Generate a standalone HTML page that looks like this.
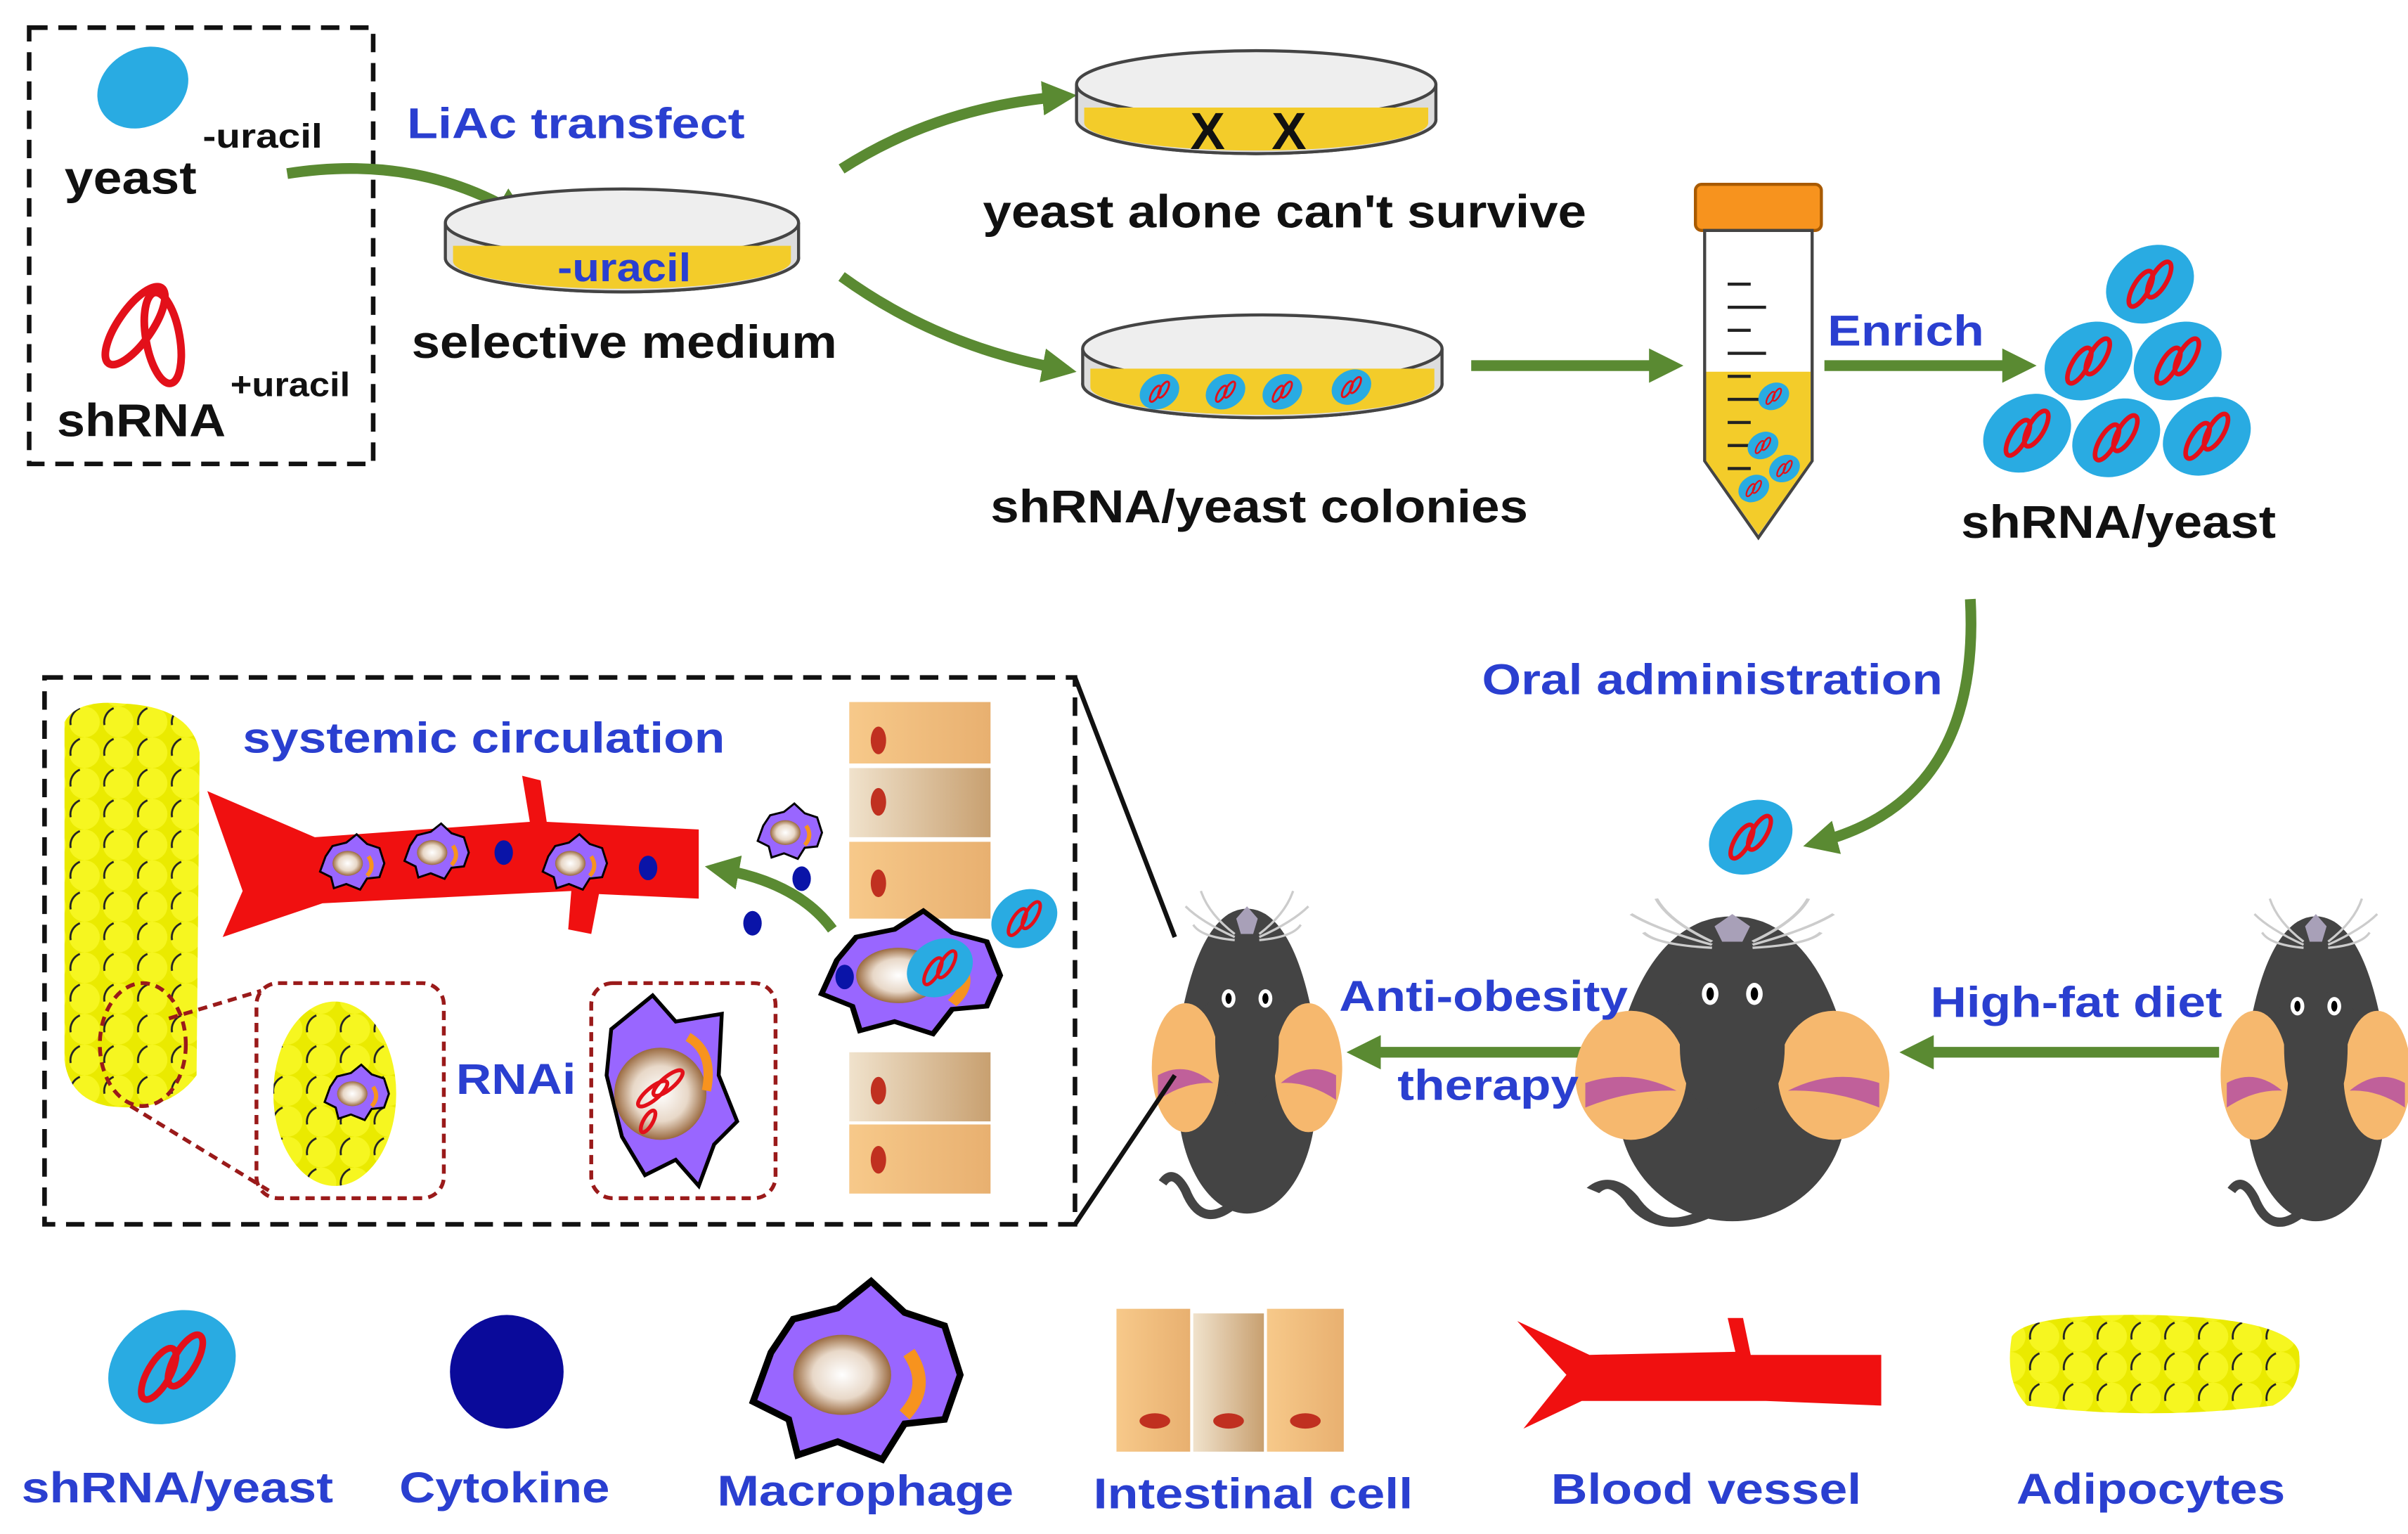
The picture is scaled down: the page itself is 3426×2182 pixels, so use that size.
<!DOCTYPE html>
<html><head><meta charset="utf-8"><style>
html,body{margin:0;padding:0;background:#fff}
svg{display:block}
text{font-family:"Liberation Sans",Arial,sans-serif;font-weight:bold}
.b{fill:#2a3fd0}.k{fill:#111}
</style></head><body>
<svg width="3426" height="2182" viewBox="0 0 1568 998.6" preserveAspectRatio="none" xmlns="http://www.w3.org/2000/svg">
<defs>
<marker id="ah" viewBox="0 0 10 10" refX="5" refY="5" markerWidth="3.2" markerHeight="3.2" orient="auto"><path d="M0,0 L10,5 L0,10 z" fill="#5a8a32"/></marker>
<radialGradient id="nuc"><stop offset="0" stop-color="#fff"/><stop offset=".6" stop-color="#e8d8c8"/><stop offset="1" stop-color="#9a6a40"/></radialGradient>
<linearGradient id="cell" x1="0" x2="1"><stop offset="0" stop-color="#f7c98a"/><stop offset="1" stop-color="#e8b070"/></linearGradient>
<linearGradient id="cell2" x1="0" x2="1"><stop offset="0" stop-color="#f0e2cc"/><stop offset="1" stop-color="#c8a070"/></linearGradient>
<pattern id="adi" width="22" height="20" patternUnits="userSpaceOnUse">
<rect width="22" height="20" fill="#eaea00"/>
<circle cx="11" cy="10" r="10" fill="#f6f620"/>
<path d="M2,12 A10,10 0 0 1 8,1" stroke="#222" stroke-width="1.3" fill="none"/>
</pattern>
<g id="yeast">
<ellipse cx="0" cy="0" rx="30" ry="24" transform="rotate(-30)" fill="#29abe2"/>
<ellipse cx="-6" cy="3" rx="5" ry="13" transform="rotate(30 -6 3)" fill="none" stroke="#e3101a" stroke-width="3"/>
<ellipse cx="6" cy="-3" rx="5" ry="13" transform="rotate(30 6 -3)" fill="none" stroke="#e3101a" stroke-width="3"/>
</g>
<g id="mac">
<path d="M-40,-10 L-30,-25 L-10,-30 L5,-42 L20,-28 L38,-22 L45,0 L38,20 L20,22 L10,38 L-10,30 L-28,36 L-32,20 L-48,12 Z" fill="#9966ff" stroke="#000" stroke-width="3"/>
<ellipse cx="-8" cy="0" rx="22" ry="18" fill="url(#nuc)"/>
<path d="M22,-10 Q32,5 20,18" stroke="#f7931e" stroke-width="6" fill="none"/>
</g>
<g id="mbody">
<path d="M-45,-15 Q-35,-80 -12,-95 Q0,-102 12,-95 Q35,-80 45,-15 Z" fill="#444"/>
<ellipse cx="0" cy="25" rx="45" ry="75" fill="#444"/>
<ellipse cx="-40" cy="5" rx="22" ry="42" fill="#f6b86e"/>
<ellipse cx="40" cy="5" rx="22" ry="42" fill="#f6b86e"/>
<path d="M-58,10 Q-40,0 -22,15 Q-40,14 -58,26Z" fill="#c0609a"/>
<path d="M58,10 Q40,0 22,15 Q40,14 58,26Z" fill="#c0609a"/>
<path d="M-20,-30 Q-24,20 -5,30 L0,95 L5,30 Q24,20 20,-30 Z" fill="#444"/>
<path d="M-7,-92 L0,-100 L7,-92 L4,-82 L-4,-82Z" fill="#a8a0b8"/>
<g stroke="#ccc" stroke-width="1.5" fill="none"><path d="M-8,-82 Q-25,-95 -30,-110"/><path d="M-8,-80 Q-30,-90 -40,-100"/><path d="M-8,-78 Q-30,-80 -35,-88"/><path d="M8,-82 Q25,-95 30,-110"/><path d="M8,-80 Q30,-90 40,-100"/><path d="M8,-78 Q30,-80 35,-88"/></g>
<path d="M-10,95 Q-30,110 -40,85 Q-48,70 -55,80" stroke="#444" stroke-width="6" fill="none"/>
</g>
<g id="eyes">
<ellipse cx="-12" cy="-40" rx="4.5" ry="6" fill="#fff"/><ellipse cx="12" cy="-40" rx="4.5" ry="6" fill="#fff"/>
<ellipse cx="-12" cy="-40" rx="2" ry="3.5" fill="#000"/><ellipse cx="12" cy="-40" rx="2" ry="3.5" fill="#000"/>
</g>
</defs>

<!-- top-left box -->
<rect x="19" y="18" width="224" height="284" fill="none" stroke="#111" stroke-width="3" stroke-dasharray="12 7"/>
<ellipse cx="93" cy="57" rx="31" ry="25" transform="rotate(-30 93 57)" fill="#29abe2"/>
<text x="42" y="126" font-size="30" class="k" textLength="86" lengthAdjust="spacingAndGlyphs">yeast</text>
<text x="132" y="96" font-size="22" class="k" textLength="78" lengthAdjust="spacingAndGlyphs">-uracil</text>
<g fill="none" stroke="#e3101a" stroke-width="5"><ellipse cx="88" cy="212" rx="11" ry="30" transform="rotate(35 88 212)"/><ellipse cx="106" cy="220" rx="11" ry="30" transform="rotate(-10 106 220)"/></g>
<text x="37" y="284" font-size="30" class="k" textLength="110" lengthAdjust="spacingAndGlyphs">shRNA</text>
<text x="150" y="258" font-size="22" class="k" textLength="78" lengthAdjust="spacingAndGlyphs">+uracil</text>

<g stroke="#5a8a32" stroke-width="7" fill="none" marker-end="url(#ah)">
<path d="M187,113 Q270,100 335,138"/>
<path d="M548,110 Q610,70 690,63"/>
<path d="M548,180 Q610,225 690,240"/>
<path d="M958,238 L1085,238"/>
<path d="M1188,238 L1315,238"/>
<path d="M1283,390 Q1290,520 1185,548"/>
<path d="M1052,685 L888,685"/>
<path d="M1445,685 L1248,685"/>
<path d="M542,605 Q520,575 470,566"/>
</g>
<text x="265" y="90" font-size="28" class="b" textLength="220" lengthAdjust="spacingAndGlyphs">LiAc transfect</text>

<!-- dishes -->
<g stroke="#444" stroke-width="2">
<ellipse cx="405" cy="168" rx="115" ry="22" fill="#f3cc2a"/>
<path d="M290,145 L290,168 A115,22 0 0 0 520,168 L520,145" fill="#ddd"/>
<ellipse cx="405" cy="145" rx="115" ry="22" fill="#eee"/>
<ellipse cx="818" cy="78" rx="117" ry="22" fill="#f3cc2a"/>
<path d="M701,55 L701,78 A117,22 0 0 0 935,78 L935,55" fill="#ddd"/>
<ellipse cx="818" cy="55" rx="117" ry="22" fill="#eee"/>
<ellipse cx="822" cy="250" rx="117" ry="22" fill="#f3cc2a"/>
<path d="M705,227 L705,250 A117,22 0 0 0 939,250 L939,227" fill="#ddd"/>
<ellipse cx="822" cy="227" rx="117" ry="22" fill="#eee"/>
</g>
<path d="M295,170 A110,18 0 0 0 515,170 L515,160 L295,160Z" fill="#f3cc2a"/>
<text x="363" y="183" font-size="26" class="b" textLength="87" lengthAdjust="spacingAndGlyphs">-uracil</text>
<text x="268" y="233" font-size="30" class="k" textLength="277" lengthAdjust="spacingAndGlyphs">selective medium</text>
<path d="M706,80 A112,18 0 0 0 930,80 L930,70 L706,70Z" fill="#f3cc2a"/>
<text x="775" y="97" font-size="34" class="k">X</text><text x="828" y="97" font-size="34" class="k">X</text>
<text x="640" y="148" font-size="30" class="k" textLength="393" lengthAdjust="spacingAndGlyphs">yeast alone can't survive</text>
<path d="M710,252 A112,18 0 0 0 934,252 L934,240 L710,240Z" fill="#f3cc2a"/>
<use href="#yeast" transform="translate(755,255) scale(.45)"/>
<use href="#yeast" transform="translate(798,255) scale(.45)"/>
<use href="#yeast" transform="translate(835,255) scale(.45)"/>
<use href="#yeast" transform="translate(880,252) scale(.45)"/>
<text x="645" y="340" font-size="30" class="k" textLength="350" lengthAdjust="spacingAndGlyphs">shRNA/yeast colonies</text>

<!-- tube -->
<rect x="1104" y="120" width="82" height="30" rx="4" fill="#f7931e" stroke="#a85a00" stroke-width="2"/>
<path d="M1110,150 L1180,150 L1180,300 L1145,350 L1110,300Z" fill="#fff" stroke="#444" stroke-width="2"/>
<path d="M1111,242 L1179,242 L1179,300 L1145,348 L1111,300Z" fill="#f3cc2a"/>
<g stroke="#222" stroke-width="2"><path d="M1125,185 h15 M1125,200 h25 M1125,215 h15 M1125,230 h25 M1125,245 h15 M1125,260 h25 M1125,275 h15 M1125,290 h25 M1125,305 h15"/></g>
<use href="#yeast" transform="translate(1155,258) scale(.35)"/>
<use href="#yeast" transform="translate(1148,290) scale(.35)"/>
<use href="#yeast" transform="translate(1162,305) scale(.35)"/>
<use href="#yeast" transform="translate(1142,318) scale(.35)"/>
<text x="1190" y="225" font-size="28" class="b" textLength="102" lengthAdjust="spacingAndGlyphs">Enrich</text>
<use href="#yeast" transform="translate(1400,185)"/>
<use href="#yeast" transform="translate(1360,235)"/>
<use href="#yeast" transform="translate(1418,235)"/>
<use href="#yeast" transform="translate(1320,282)"/>
<use href="#yeast" transform="translate(1378,285)"/>
<use href="#yeast" transform="translate(1437,284)"/>
<text x="1277" y="350" font-size="30" class="k" textLength="205" lengthAdjust="spacingAndGlyphs">shRNA/yeast</text>
<text x="965" y="452" font-size="28" class="b" textLength="300" lengthAdjust="spacingAndGlyphs">Oral administration</text>
<use href="#yeast" transform="translate(1140,545) scale(.95)"/>

<!-- mice -->
<use href="#mbody" transform="translate(812,690)"/><use href="#eyes" transform="translate(812,690)"/>
<use href="#mbody" transform="translate(1128,695) scale(1.65,1)"/><use href="#eyes" transform="translate(1128,695) scale(1.2)"/>
<use href="#mbody" transform="translate(1508,695)"/><use href="#eyes" transform="translate(1508,695)"/>
<text x="872" y="658" font-size="28" class="b" textLength="188" lengthAdjust="spacingAndGlyphs">Anti-obesity</text>
<text x="910" y="716" font-size="28" class="b" textLength="118" lengthAdjust="spacingAndGlyphs">therapy</text>
<text x="1257" y="662" font-size="28" class="b" textLength="190" lengthAdjust="spacingAndGlyphs">High-fat diet</text>

<!-- bottom-left box -->
<rect x="29" y="441" width="671" height="356" fill="none" stroke="#111" stroke-width="3" stroke-dasharray="12 7"/>
<path d="M700,441 L765,610 M700,797 L765,700" stroke="#111" stroke-width="3"/>
<path d="M42,470 Q50,455 80,458 Q125,460 130,490 L128,700 Q110,725 70,720 Q45,715 42,690Z" fill="url(#adi)"/>
<text x="158" y="490" font-size="28" class="b" textLength="314" lengthAdjust="spacingAndGlyphs">systemic circulation</text>
<path d="M135,515 L205,545 L345,535 L340,505 L352,508 L356,535 L455,540 L455,585 L390,582 L385,608 L370,605 L372,580 L210,588 L145,610 L158,580 Z" fill="#f01010"/>
<use href="#mac" transform="translate(230,562) scale(.45)"/>
<use href="#mac" transform="translate(285,555) scale(.45)"/>
<use href="#mac" transform="translate(375,562) scale(.45)"/>
<use href="#mac" transform="translate(515,542) scale(.45)"/>
<g fill="#0a14a8"><ellipse cx="328" cy="555" rx="6" ry="8"/><ellipse cx="422" cy="565" rx="6" ry="8"/><ellipse cx="522" cy="572" rx="6" ry="8"/><ellipse cx="490" cy="601" rx="6" ry="8"/></g>
<!-- zoom callouts -->
<ellipse cx="93" cy="680" rx="28" ry="40" fill="none" stroke="#9a1a1a" stroke-width="2.5" stroke-dasharray="6 4"/>
<path d="M110,663 L170,645 M85,720 L175,775" stroke="#9a1a1a" stroke-width="2.5" stroke-dasharray="6 4"/>
<rect x="167" y="640" width="122" height="140" rx="14" fill="none" stroke="#9a1a1a" stroke-width="2.5" stroke-dasharray="6 4"/>
<ellipse cx="218" cy="712" rx="40" ry="60" fill="url(#adi)"/>
<use href="#mac" transform="translate(233,712) scale(.45)"/>
<text x="297" y="712" font-size="28" class="b" textLength="78" lengthAdjust="spacingAndGlyphs">RNAi</text>
<rect x="385" y="640" width="120" height="140" rx="14" fill="none" stroke="#9a1a1a" stroke-width="2.5" stroke-dasharray="6 4"/>
<path d="M398,670 L425,648 L440,665 L470,660 L468,700 L480,730 L465,745 L455,772 L440,755 L420,765 L405,740 L395,700Z" fill="#9966ff" stroke="#000" stroke-width="2.5"/>
<circle cx="430" cy="712" r="30" fill="url(#nuc)"/>
<path d="M448,675 Q465,685 460,710" stroke="#f7931e" stroke-width="6" fill="none"/>
<g fill="none" stroke="#e3101a" stroke-width="2.5"><ellipse cx="425" cy="712" rx="4" ry="12" transform="rotate(50 425 712)"/><ellipse cx="435" cy="705" rx="4" ry="12" transform="rotate(50 435 705)"/><ellipse cx="422" cy="730" rx="3" ry="8" transform="rotate(30 422 730)"/></g>
<!-- intestinal cells -->
<rect x="553" y="457" width="92" height="40" fill="url(#cell)"/>
<rect x="553" y="500" width="92" height="45" fill="url(#cell2)"/>
<rect x="553" y="548" width="92" height="50" fill="url(#cell)"/>
<rect x="553" y="685" width="92" height="45" fill="url(#cell2)"/>
<rect x="553" y="732" width="92" height="45" fill="url(#cell)"/>
<g fill="#c03020"><ellipse cx="572" cy="482" rx="5" ry="9"/><ellipse cx="572" cy="522" rx="5" ry="9"/><ellipse cx="572" cy="575" rx="5" ry="9"/><ellipse cx="572" cy="710" rx="5" ry="9"/><ellipse cx="572" cy="755" rx="5" ry="9"/></g>
<use href="#mac" transform="translate(595,635) scale(1.25,1)"/>
<use href="#yeast" transform="translate(612,630) scale(.75)"/>
<ellipse cx="550" cy="636" rx="6" ry="8" fill="#0a14a8"/>
<use href="#yeast" transform="translate(667,598) scale(.75)"/>

<!-- legend -->
<use href="#yeast" transform="translate(112,890) scale(1.45)"/>
<circle cx="330" cy="893" r="37" fill="#0a0a9a"/>
<use href="#mac" transform="translate(560,895) scale(1.45)"/>
<rect x="727" y="852" width="48" height="93" fill="url(#cell)"/>
<rect x="777" y="855" width="46" height="90" fill="url(#cell2)"/>
<rect x="825" y="852" width="50" height="93" fill="url(#cell)"/>
<g fill="#c03020"><ellipse cx="752" cy="925" rx="10" ry="5"/><ellipse cx="800" cy="925" rx="10" ry="5"/><ellipse cx="850" cy="925" rx="10" ry="5"/></g>
<path d="M988,860 L1035,882 L1130,880 L1125,858 L1135,858 L1140,882 L1225,882 L1225,915 L1150,912 L1030,912 L992,930 L1020,895Z" fill="#f01010"/>
<path d="M1310,870 Q1320,855 1400,856 Q1490,858 1497,880 Q1500,905 1480,915 Q1400,925 1320,915 Q1305,900 1310,870Z" fill="url(#adi)"/>
<text x="14" y="978" font-size="28" class="b" textLength="203" lengthAdjust="spacingAndGlyphs">shRNA/yeast</text>
<text x="260" y="978" font-size="28" class="b" textLength="137" lengthAdjust="spacingAndGlyphs">Cytokine</text>
<text x="467" y="980" font-size="28" class="b" textLength="193" lengthAdjust="spacingAndGlyphs">Macrophage</text>
<text x="712" y="982" font-size="28" class="b" textLength="208" lengthAdjust="spacingAndGlyphs">Intestinal cell</text>
<text x="1010" y="979" font-size="28" class="b" textLength="202" lengthAdjust="spacingAndGlyphs">Blood vessel</text>
<text x="1313" y="979" font-size="28" class="b" textLength="175" lengthAdjust="spacingAndGlyphs">Adipocytes</text>
</svg>
</body></html>
